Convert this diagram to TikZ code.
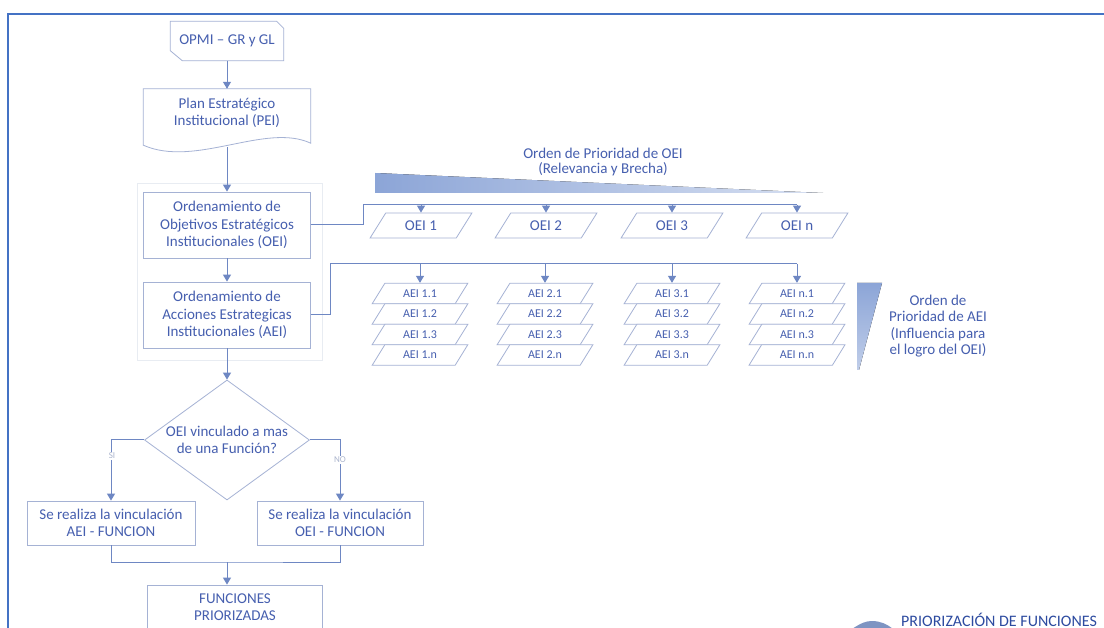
\documentclass[tikz,border=0pt]{standalone}
\usepackage{fontspec}
\setmainfont{Carlito}
\usetikzlibrary{arrows.meta,shapes.geometric,calc}
\definecolor{txt}{RGB}{70,95,175}
\definecolor{bord}{RGB}{165,178,212}
\definecolor{arr}{RGB}{110,135,195}
\definecolor{framec}{RGB}{68,114,196}
\definecolor{wedge}{RGB}{140,165,215}
\definecolor{faint}{RGB}{232,236,242}
\definecolor{lbl}{RGB}{170,180,205}
\definecolor{dark}{RGB}{45,75,160}
\begin{document}
\begin{tikzpicture}[x=1pt,y=-1pt,
  every node/.style={text=txt,font=\fontsize{15}{17.5}\selectfont,align=center,inner sep=2pt},
  box/.style={draw=bord,line width=0.8pt},
  para/.style={trapezium,trapezium left angle=60,trapezium right angle=120,trapezium stretches=true,draw=bord,line width=0.8pt,fill=white},
  aeis/.style={font=\fontsize{12}{14}\selectfont,minimum width=96,minimum height=20.5},
  oeis/.style={minimum width=102,minimum height=25},
  con/.style={draw=arr,line width=1pt},
  arrow/.style={con,-{Triangle[width=8pt,length=7pt]}},
  brlabel/.style={text=lbl,font=\fontsize{9}{10}\selectfont,fill=white,inner sep=1pt}
]
\useasboundingbox (0,0) rectangle (1104,628);
\fill[white] (0,0) rectangle (1104,628);

% frame
\draw[framec,line width=2pt] (1110,14) -- (8,14) -- (8,640);

% faint group
\draw[faint,line width=0.8pt] (137,183) rectangle (322,360);

% main flow nodes
\node (opmi) at (227,41) [minimum width=113,minimum height=39] {OPMI – GR y GL};
\draw[bord,line width=0.8pt] (opmi.north west) -- ($(opmi.north east)+(-7,0)$) -- ($(opmi.north east)+(0,7)$) -- (opmi.south east) -- ($(opmi.south west)+(12,0)$) -- ($(opmi.south west)+(0,-10)$) -- cycle;

\node (plan) at (227,113) [minimum width=167,minimum height=48] {Plan Estratégico\\Institucional (PEI)};
\draw[bord,line width=0.8pt] (plan.north west) -- (plan.north east) -- ($(plan.south east)+(0,6)$) .. controls ($(plan.south east)+(-45,-15)$) and ($(plan.south west)+(52,31)$) .. ($(plan.south west)+(0,8)$) -- cycle;

\node[box,minimum width=167,minimum height=66] (oei) at (227,225) {Ordenamiento de\\Objetivos Estratégicos\\Institucionales (OEI)};
\node[box,minimum width=167,minimum height=66] (aei) at (227,315) {Ordenamiento de\\Acciones Estrategicas\\Institucionales (AEI)};

\node[diamond,draw=bord,line width=0.8pt,aspect=1.4,inner sep=0pt,minimum width=165,minimum height=120] (dec) at (227,440) {OEI vinculado a mas\\de una Función?};

\node[box,minimum width=168,minimum height=44] (left) at (111,523) {Se realiza la vinculación\\AEI - FUNCION};
\node[box,minimum width=166,minimum height=44] (right) at (340,523) {Se realiza la vinculación\\OEI - FUNCION};
\node[box,minimum width=175,minimum height=44] (func) at (235,607) {FUNCIONES\\PRIORIZADAS};

% main flow connectors
\draw[arrow] (opmi.south) -- (plan.north);
\draw[arrow] ($(plan.south)+(0,10)$) -- (oei.north);
\draw[arrow] (oei.south) -- (aei.north);
\draw[arrow] (aei.south) -- (dec.north);
\draw[arrow] (dec.west) -| (left.north);
\draw[arrow] (dec.east) -| (right.north);
\node[brlabel] (si) at (112,456) {SI};
\node[brlabel] (no) at (340,460) {NO};
\coordinate (m) at (227,562);
\draw[con] (left.south) |- (m) -| (right.south);
\draw[arrow] (m) -- (m |- func.north);

% OEI ordering
\fill[left color=wedge,right color=wedge!35] (375,173) -- (823,193) -- (375,193) -- cycle;
\node[font=\fontsize{15}{15}\selectfont] (t1) at (603,162) {Orden de Prioridad de OEI\\(Relevancia y Brecha)};

\foreach \i/\x/\l in {1/421/1,2/546/2,3/672/3,4/797/n}{
  \node[para,oeis] (o\i) at (\x,225.5) {OEI \l};
}
\coordinate (ob) at (363,205);
\draw[con] (oei.east) -| (ob) -- (ob -| o4.north);
\foreach \i in {1,...,4}{
  \draw[arrow] (ob -| o\i.north) -- (o\i.north);
}

% AEI ordering
\foreach \c/\x/\cl in {1/420/1,2/545/2,3/672/3,4/797/n}{
  \foreach \r/\y/\rl in {1/293.5/1,2/314/2,3/334.5/3,4/355/n}{
    \node[para,aeis] (a\c-\r) at (\x,\y) {AEI \cl.\rl};
  }
}
\coordinate (ab) at (330,264);
\draw[con] (aei.east) -| (ab) -- (ab -| a4-1.north);
\foreach \c in {1,...,4}{
  \draw[arrow] (ab -| a\c-1.north) -- (a\c-1.north);
}

\fill[top color=wedge,bottom color=wedge!55] (857,283) -- (882,283) -- (859,370) -- (857,370) -- cycle;
\node[font=\fontsize{15}{16.3}\selectfont] (t2) at (938,326) {Orden de\\Prioridad de AEI\\(Influencia para\\el logro del OEI)};

% bottom right
\fill[wedge!90!black] (852,629) .. controls (861,623) and (866,621) .. (872,621) .. controls (880,621) and (887,624) .. (893,629) -- cycle;
\node[anchor=base west,inner sep=0pt,text=dark,font=\fontsize{16}{19}\selectfont] (prio) at (901,626) {PRIORIZACIÓN DE FUNCIONES};
\end{tikzpicture}
\end{document}
